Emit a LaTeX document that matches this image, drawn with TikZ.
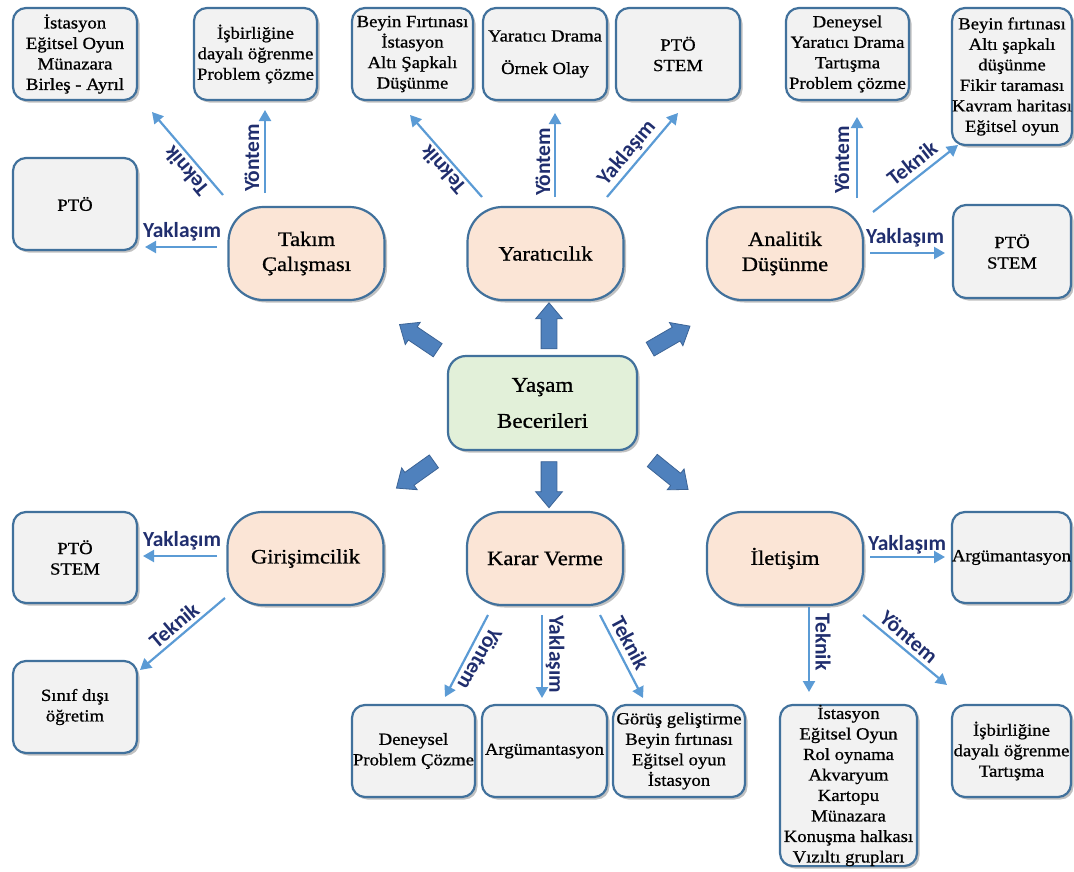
\documentclass[tikz,border=0pt]{standalone}
\usepackage{fontspec}
\setmainfont{Liberation Serif}[FakeStretch=1.1,FakeBold=0.8]
\setsansfont{Carlito}
\usetikzlibrary{shapes.arrows,shadows,arrows.meta}
\definecolor{ofill}{RGB}{251,229,214}
\definecolor{gfill}{RGB}{242,242,242}
\definecolor{cfill}{RGB}{226,240,217}
\definecolor{bline}{RGB}{65,113,156}
\definecolor{cblue}{RGB}{91,155,213}
\definecolor{bfill}{RGB}{79,129,189}
\definecolor{bdraw}{RGB}{60,100,150}
\definecolor{navy}{RGB}{32,46,110}
\tikzset{
  shad/.style={drop shadow={shadow xshift=2.5pt,shadow yshift=-2.5pt,opacity=0.35,fill=black!70}},
  gbox/.style={draw=bline, line width=2.2pt, fill=gfill, rounded corners=13pt, shad, align=center,
     inner sep=0pt, font=\fontsize{17}{20.5}\selectfont},
  obox/.style={draw=bline, line width=2.2pt, fill=ofill, rounded corners=35pt, shad, align=center,
     inner sep=0pt, minimum width=156pt, minimum height=93pt, font=\fontsize{20.5}{25}\selectfont},
  cbox/.style={draw=bline, line width=2.2pt, fill=cfill, rounded corners=18pt, shad, align=center,
     inner sep=0pt, font=\fontsize{21}{36}\selectfont},
  conn/.style={draw=cblue, line width=2.2pt, -{Triangle[length=11pt,width=12pt]}},
  lab/.style={text=navy, inner sep=0pt, font=\sffamily\bfseries\fontsize{21.5}{22}\selectfont},
  barrow/.style={single arrow, fill=bfill, draw=bdraw, line width=0.8pt, minimum height=46pt,
     inner xsep=0pt, inner ysep=7.5pt, single arrow head extend=5.5pt, single arrow tip angle=80,
     single arrow head indent=0pt}
}
\begin{document}
\begin{tikzpicture}[x=1pt,y=-1pt]
\useasboundingbox (0,0) rectangle (1074,871);
% ---------- centre ----------
\node[cbox, minimum width=189pt, minimum height=94pt] (yasam) at (542.5,403) {Yaşam\\Becerileri};
% ---------- block arrows ----------
\node[barrow, rotate=90]    (aup) at (549,330.5) {};
\node[barrow, rotate=146]   (aul) at (422.5,340) {};
\node[barrow, rotate=30]    (aur) at (666,340) {};
\node[barrow, rotate=215.5] (adl) at (419,472) {};
\node[barrow, rotate=-90]   (adn) at (549,480) {};
\node[barrow, rotate=-39]   (adr) at (666.5,472) {};
% ---------- skill nodes ----------
\node[obox] (takim) at (306.5,253.5) {Takım\\Çalışması};
\node[obox] (yarat) at (545.5,253.5) {Yaratıcılık};
\node[obox] (anal)  at (785,253.5)   {Analitik\\Düşünme};
\node[obox] (giris) at (305.5,558.5) {Girişimcilik};
\node[obox] (karar) at (545,558.5)   {Karar Verme};
\node[obox] (ilet)  at (785,558.5)   {İletişim};
% ---------- grey boxes ----------
\node[gbox, minimum width=124pt, minimum height=92pt] (g1) at (75,54) {İstasyon\\Eğitsel Oyun\\Münazara\\Birleş - Ayrıl};
\node[gbox, minimum width=123pt, minimum height=92pt] (g2) at (255.5,54) {İşbirliğine\\dayalı öğrenme\\Problem çözme};
\node[gbox, minimum width=124pt, minimum height=92pt] (g3) at (75,204) {PTÖ};
\node[gbox, minimum width=121pt, minimum height=92pt] (g4) at (412.5,54) {Beyin Fırtınası\\İstasyon\\Altı Şapkalı\\Düşünme};
\node[gbox, minimum width=124pt, minimum height=92pt] (g5) at (545,54) {Yaratıcı Drama\\[12pt]Örnek Olay};
\node[gbox, minimum width=124pt, minimum height=92pt] (g6) at (678,54) {PTÖ\\STEM};
\node[gbox, minimum width=123pt, minimum height=92pt] (g7) at (847.5,54) {Deneysel\\Yaratıcı Drama\\Tartışma\\Problem çözme};
\node[gbox, minimum width=118pt, minimum height=137pt] (g8) at (1012,76.5) {Beyin fırtınası\\Altı şapkalı\\düşünme\\Fikir taraması\\Kavram haritası\\Eğitsel oyun};
\node[gbox, minimum width=118pt, minimum height=93pt] (g9) at (1012,251.5) {PTÖ\\STEM};
\node[gbox, minimum width=124pt, minimum height=91pt] (g10) at (75,557.5) {PTÖ\\STEM};
\node[gbox, minimum width=124pt, minimum height=92pt] (g11) at (75,707) {Sınıf dışı\\öğretim};
\node[gbox, minimum width=123pt, minimum height=92pt] (g12) at (413.5,751) {Deneysel\\Problem Çözme};
\node[gbox, minimum width=125pt, minimum height=92pt] (g13) at (544.5,751) {Argümantasyon};
\node[gbox, minimum width=132pt, minimum height=92pt] (g14) at (679,751) {Görüş geliştirme\\Beyin fırtınası\\Eğitsel oyun\\İstasyon};
\node[gbox, minimum width=119pt, minimum height=91pt] (g15) at (1011.5,557.5) {Argümantasyon};
\node[gbox, minimum width=137pt, minimum height=161pt] (g16) at (848.5,785.5) {İstasyon\\Eğitsel Oyun\\Rol oynama\\Akvaryum\\Kartopu\\Münazara\\Konuşma halkası\\Vızıltı grupları};
\node[gbox, minimum width=119pt, minimum height=92pt] (g17) at (1011.5,751) {İşbirliğine\\dayalı öğrenme\\Tartışma};
% ---------- connector end points ----------
\coordinate (takimA) at (217,247); \coordinate (g3A) at (145,247);
\coordinate (takimB) at (223,195); \coordinate (g1A) at (152,112);
\coordinate (takimC) at (265,193); \coordinate (g2A) at (265,110);
\coordinate (yaratA) at (482,197); \coordinate (g4A) at (410,115);
\coordinate (yaratB) at (555,197); \coordinate (g5A) at (555,113);
\coordinate (yaratC) at (607,197); \coordinate (g6A) at (678,113);
\coordinate (analA) at (857,198);  \coordinate (g7A) at (857,117);
\coordinate (analB) at (873,212);  \coordinate (g8A) at (958,145);
\coordinate (analC) at (870,253);  \coordinate (g9A) at (945,253);
\coordinate (girisA) at (217,556); \coordinate (g10A) at (143,556);
\coordinate (girisB) at (225,598); \coordinate (g11A) at (140,670);
\coordinate (kararA) at (488,615); \coordinate (g12A) at (445,697);
\coordinate (kararB) at (542,615); \coordinate (g13A) at (542,698);
\coordinate (kararC) at (600,615); \coordinate (g14A) at (643,698);
\coordinate (iletA) at (870,557);  \coordinate (g15A) at (945,557);
\coordinate (iletB) at (809,607);  \coordinate (g16A) at (809,692);
\coordinate (iletC) at (863,615);  \coordinate (g17A) at (947,685);
% ---------- connectors ----------
\draw[conn] (takimA) -- (g3A);
\draw[conn] (takimB) -- (g1A);
\draw[conn] (takimC) -- (g2A);
\draw[conn] (yaratA) -- (g4A);
\draw[conn] (yaratB) -- (g5A);
\draw[conn] (yaratC) -- (g6A);
\draw[conn] (analA) -- (g7A);
\draw[conn] (analB) -- (g8A);
\draw[conn] (analC) -- (g9A);
\draw[conn] (girisA) -- (g10A);
\draw[conn] (girisB) -- (g11A);
\draw[conn] (kararA) -- (g12A);
\draw[conn] (kararB) -- (g13A);
\draw[conn] (kararC) -- (g14A);
\draw[conn] (iletA) -- (g15A);
\draw[conn] (iletB) -- (g16A);
\draw[conn] (iletC) -- (g17A);
% ---------- labels ----------
\node[lab] (l1) at (182,232) {Yaklaşım};
\node[lab, rotate=130] (l2) at (186,171) {Teknik};
\node[lab, rotate=90] (l3) at (252,158) {Yöntem};
\node[lab, rotate=131] (l4) at (443,170) {Teknik};
\node[lab, rotate=90] (l5) at (543,162) {Yöntem};
\node[lab, rotate=50] (l6) at (627,153) {Yaklaşım};
\node[lab, rotate=90] (l7) at (842,160) {Yöntem};
\node[lab, rotate=38] (l8) at (912,163) {Teknik};
\node[lab] (l9) at (905,238) {Yaklaşım};
\node[lab] (l10) at (182,541) {Yaklaşım};
\node[lab, rotate=40] (l11) at (174,625) {Teknik};
\node[lab, rotate=-120] (l12) at (480,659) {Yöntem};
\node[lab, rotate=-90] (l13) at (555,654) {Yaklaşım};
\node[lab, rotate=-62] (l14) at (630,643) {Teknik};
\node[lab] (l15) at (907,545) {Yaklaşım};
\node[lab, rotate=-90] (l16) at (823,642) {Teknik};
\node[lab, rotate=-40] (l17) at (909,637) {Yöntem};
\end{tikzpicture}
\end{document}
